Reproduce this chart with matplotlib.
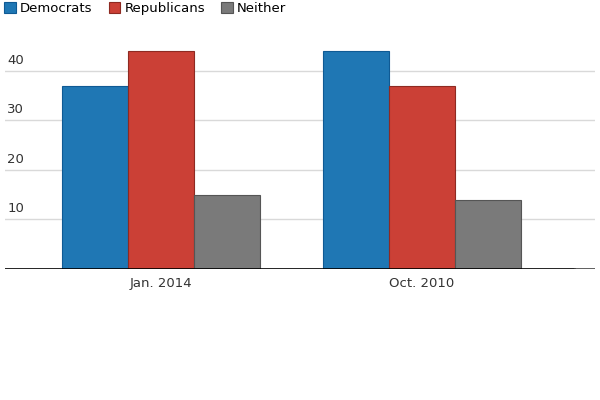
import matplotlib.pyplot as plt
import numpy as np

categories = ["Jan. 2014", "Oct. 2010"]
series = ["Democrats", "Republicans", "Neither"]
democrats = [37, 44]
republicans = [44, 37]
neither = [15, 14]
yticks = [10, 20, 30, 40]

colors = ["#1f77b4", "#cb4036", "#7a7a7a"]
edges = ["#0f5a94", "#8e2a22", "#555555"]

fig = plt.figure(figsize=(6, 4), dpi=100)
ax = fig.add_axes([5 / 600, 1 - 269 / 400, 590 / 600, 238 / 400])

x = np.arange(len(categories))
w = 0.253
for i, (name, vals) in enumerate(zip(series, [democrats, republicans, neither])):
    ax.bar(x + (i - 1) * w, vals, w, color=colors[i], edgecolor=edges[i],
           linewidth=0.8, label=name, zorder=3)

ax.set_xlim(-0.598, 1.663)
ax.set_ylim(0, 48)
for t in yticks:
    ax.axhline(t, color="#d9d9d9", linewidth=1, zorder=1)
    ax.text(0.004, t + 0.8, str(t), transform=ax.get_yaxis_transform(),
            ha="left", va="bottom", fontsize=9.5, color="#333333")
# baseline: black, fading to grey at the far right
ax.axhline(0, xmax=570 / 590, color="black", linewidth=1.2, zorder=4)
ax.axhline(0, xmin=570 / 590, color="#444444", linewidth=1.2, zorder=4)

ax.set_yticks([])
ax.set_xticks(x)
ax.set_xticklabels(categories, fontsize=9.5, color="#333333")
ax.tick_params(axis="x", length=0, pad=6)
for s in ax.spines.values():
    s.set_visible(False)

ax.legend(loc="upper left", bbox_to_anchor=(-0.01, 1.145), ncol=3, frameon=False,
          fontsize=9.5, handlelength=0.9, handleheight=0.9, handletextpad=0.3,
          columnspacing=1.2, borderaxespad=0)

fig.savefig("out.png", dpi=100)
